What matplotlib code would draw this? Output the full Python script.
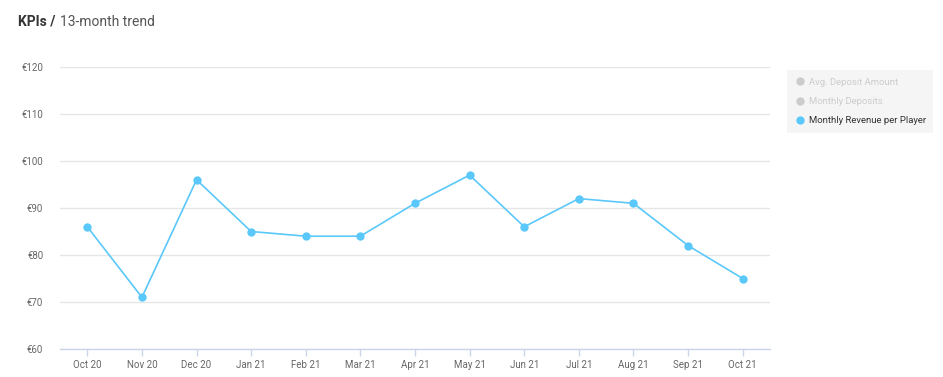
import matplotlib
matplotlib.use("Agg")
import matplotlib.pyplot as plt
from matplotlib.lines import Line2D

plt.rcParams['font.family'] = ['Roboto', 'DejaVu Sans']

months = ["Oct 20", "Nov 20", "Dec 20", "Jan 21", "Feb 21", "Mar 21", "Apr 21",
          "May 21", "Jun 21", "Jul 21", "Aug 21", "Sep 21", "Oct 21"]
revenue_per_player = [86, 71, 96, 85, 84, 84, 91, 97, 86, 92, 91, 82, 75]
y_ticks = [60, 70, 80, 90, 100, 110, 120]
legend_names = ["Avg. Deposit Amount", "Monthly Deposits", "Monthly Revenue per Player"]

line_color = "#5ac8fa"
text_color = "#666666"

fig = plt.figure(figsize=(9.43, 3.77), dpi=100)
ax = fig.add_axes([60 / 943, 1 - 349 / 377, 710 / 943, 282 / 377])

x = list(range(len(months)))
ax.plot(x, revenue_per_player, color=line_color, linewidth=1.2, marker="o",
        markersize=6, markeredgewidth=0, zorder=3)

ax.set_xlim(-0.5, len(months) - 0.5)
ax.set_ylim(60, 120)
ax.set_xticks(x)
ax.set_xticklabels(months)
ax.set_yticks(y_ticks)
ax.set_yticklabels([f"€{v}" for v in y_ticks])

ax.grid(axis="y", color="#e6e6e6", linewidth=1)
ax.set_axisbelow(True)
for side in ["top", "right", "left"]:
    ax.spines[side].set_visible(False)
ax.spines["bottom"].set_color("#ccd6eb")
ax.spines["bottom"].set_linewidth(1)

ax.tick_params(axis="x", colors="#ccd6eb", length=5, width=1, labelsize=7,
               labelcolor=text_color, pad=3)
ax.tick_params(axis="y", length=0, labelsize=7, labelcolor=text_color, pad=12)

# legend
handles = [
    Line2D([], [], linestyle="none", marker="o", markersize=6, markeredgewidth=0, color="#cccccc"),
    Line2D([], [], linestyle="none", marker="o", markersize=6, markeredgewidth=0, color="#cccccc"),
    Line2D([], [], linestyle="none", marker="o", markersize=6, markeredgewidth=0, color=line_color),
]
leg = fig.legend(handles, legend_names, loc="upper left",
                 bbox_to_anchor=(787 / 943, 1 - 70 / 377), fontsize=6.8,
                 frameon=True, facecolor="#f5f5f5", edgecolor="none", framealpha=1,
                 fancybox=False, handletextpad=0.3, labelspacing=1.1,
                 borderpad=0.8, handlelength=1.2, borderaxespad=0)
for t, c in zip(leg.get_texts(), ["#cccccc", "#cccccc", "#333333"]):
    t.set_color(c)

# title
t1 = fig.text(18 / 943, 1 - 22 / 377, "KPIs /", fontsize=10, fontweight="bold",
              color="#333333", va="center", ha="left")
fig.canvas.draw()
bb = t1.get_window_extent()
fig.text((bb.x1 + 4) / 943, 1 - 22 / 377, "13-month trend", fontsize=10,
         color="#555555", va="center", ha="left")

fig.savefig("out.png", dpi=100)
